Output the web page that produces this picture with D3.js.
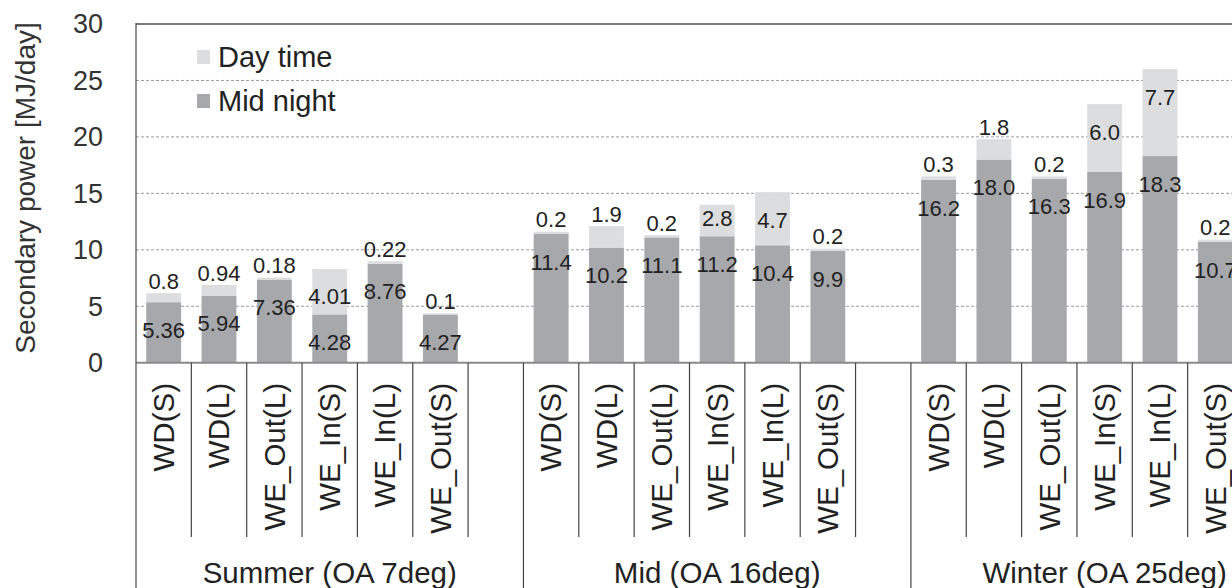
<!DOCTYPE html>
<html><head><meta charset="utf-8">
<script src="https://cdn.jsdelivr.net/npm/d3@7"></script>
<style>body{margin:0;background:#fff} svg{display:block} text{font-family:"Liberation Sans",Arial,sans-serif}</style>
</head><body><svg id="c" width="1232" height="588"></svg>
<script>
const groups = ["Summer (OA 7deg)", "Mid (OA 16deg)", "Winter (OA 25deg)"];
const cases = ["WD(S)", "WD(L)", "WE_Out(L)", "WE_In(S)", "WE_In(L)", "WE_Out(S)"];
const midNight = [
  [5.36, 5.94, 7.36, 4.28, 8.76, 4.27],
  [11.4, 10.2, 11.1, 11.2, 10.4, 9.9],
  [16.2, 18.0, 16.3, 16.9, 18.3, 10.7]
];
const dayTime = [
  [0.8, 0.94, 0.18, 4.01, 0.22, 0.1],
  [0.2, 1.9, 0.2, 2.8, 4.7, 0.2],
  [0.3, 1.8, 0.2, 6.0, 7.7, 0.2]
];
const labelDecimals = [null, 1, 1];
const yTicks = [0, 5, 10, 15, 20, 25, 30];
const seriesNames = ["Day time", "Mid night"];
const yTitle = "Secondary power [MJ/day]";

const colDay = "#dcdddf", colNight = "#a7a8ac";
const svg = d3.select("#c");

// slots: 6 cases + 1 blank per group
const slots = [];
groups.forEach((g, gi) => {
  cases.forEach((c, ci) => slots.push({id: gi + "|" + ci, gi, ci, name: c}));
  slots.push({id: gi + "|blank", gi, ci: -1, name: ""});
});

const left = 136, slotW = 55.35;
const x = d3.scaleBand().domain(slots.map(s => s.id))
  .range([left, left + slots.length * slotW]).paddingInner(0.37).paddingOuter(0.185);
const y = d3.scaleLinear().domain([0, 30]).range([362.7, 24]);
const step = x.step();

// gridlines
svg.append("g").selectAll("line").data(yTicks.filter(t => t > 0 && t < 30)).join("line")
  .attr("x1", left).attr("x2", 1232).attr("y1", d => y(d)).attr("y2", d => y(d))
  .attr("stroke", "#9a9a9a").attr("stroke-width", 1).attr("stroke-dasharray", "3,2");
// top border
svg.append("line").attr("x1", left).attr("x2", 1232).attr("y1", y(30)).attr("y2", y(30))
  .attr("stroke", "#7a7a7a").attr("stroke-width", 2);

// bars
const bars = [];
slots.filter(s => s.ci >= 0).forEach(s => {
  const m = midNight[s.gi][s.ci], d = dayTime[s.gi][s.ci];
  bars.push({s, m, d});
});
const bg = svg.append("g");
bg.selectAll("rect.n").data(bars).join("rect").attr("class", "n")
  .attr("x", b => x(b.s.id)).attr("width", x.bandwidth())
  .attr("y", b => y(b.m)).attr("height", b => y(0) - y(b.m)).attr("fill", colNight);
bg.selectAll("rect.d").data(bars).join("rect").attr("class", "d")
  .attr("x", b => x(b.s.id)).attr("width", x.bandwidth())
  .attr("y", b => y(b.m + b.d)).attr("height", b => y(b.m) - y(b.m + b.d)).attr("fill", colDay);

// baseline
svg.append("line").attr("x1", left).attr("x2", 1232).attr("y1", y(0)).attr("y2", y(0))
  .attr("stroke", "#8a8a8a").attr("stroke-width", 2);

// left axis line
svg.append("line").attr("x1", left).attr("x2", left).attr("y1", y(30) - 1).attr("y2", 588)
  .attr("stroke", "#555").attr("stroke-width", 1.3);

// category dividers
const bounds = d3.range(1, slots.length + 1);
svg.append("g").selectAll("line").data(bounds).join("line")
  .attr("x1", k => x.range()[0] + k * step).attr("x2", k => x.range()[0] + k * step)
  .attr("y1", y(0)).attr("y2", k => k % 7 === 0 ? 588 : 537)
  .attr("stroke", "#444").attr("stroke-width", 1.2);

// formatting
const fmt = (v, gi) => labelDecimals[gi] == null ? String(v) : v.toFixed(labelDecimals[gi]);

// data labels
const lg = svg.append("g").attr("font-size", 22).attr("fill", "#222").attr("text-anchor", "middle");
lg.selectAll("text.n").data(bars).join("text").attr("class", "n")
  .attr("x", b => x(b.s.id) + x.bandwidth() / 2)
  .attr("y", b => y(b.m) + 28).attr("dy", "0.35em")
  .text(b => fmt(b.m, b.s.gi));
lg.selectAll("text.d").data(bars).join("text").attr("class", "d")
  .attr("x", b => x(b.s.id) + x.bandwidth() / 2)
  .attr("y", b => {
    const top = y(b.m + b.d), h = y(b.m) - top;
    return h > 25 ? top + Math.min(28, h - 18) : top - 12;
  }).attr("dy", "0.35em")
  .text(b => fmt(b.d, b.s.gi));

// y tick labels
svg.append("g").attr("font-size", 27).attr("fill", "#333").attr("text-anchor", "end")
  .selectAll("text").data(yTicks).join("text")
  .attr("x", 103).attr("y", d => y(d)).attr("dy", "0.35em").text(d => d);

// y title
svg.append("text").attr("transform", "translate(35,188) rotate(-90)")
  .attr("text-anchor", "middle").attr("font-size", 28).attr("fill", "#333").text(yTitle);

// category labels (rotated)
svg.append("g").attr("font-size", 29.5).attr("fill", "#222").attr("text-anchor", "end")
  .selectAll("text").data(slots.filter(s => s.ci >= 0)).join("text")
  .attr("transform", s => `translate(${x(s.id) + x.bandwidth() / 2},383) rotate(-90)`)
  .attr("dy", "0.35em").text(s => s.name);

// group labels
svg.append("g").attr("font-size", 29.5).attr("fill", "#222").attr("text-anchor", "middle")
  .selectAll("text").data(groups).join("text")
  .attr("x", (g, i) => x.range()[0] + (i * 7 + 3.5) * step).attr("y", 583).text(g => g);

// legend
const leg = svg.append("g");
const legItems = [{name: seriesNames[0], c: colDay, y: 50}, {name: seriesNames[1], c: colNight, y: 94}];
leg.selectAll("rect").data(legItems).join("rect")
  .attr("x", 197).attr("y", d => d.y).attr("width", 13).attr("height", 14).attr("fill", d => d.c);
leg.selectAll("text").data(legItems).join("text")
  .attr("x", 218).attr("y", d => d.y + 17).attr("font-size", 29).attr("fill", "#222").text(d => d.name);
</script></body></html>
